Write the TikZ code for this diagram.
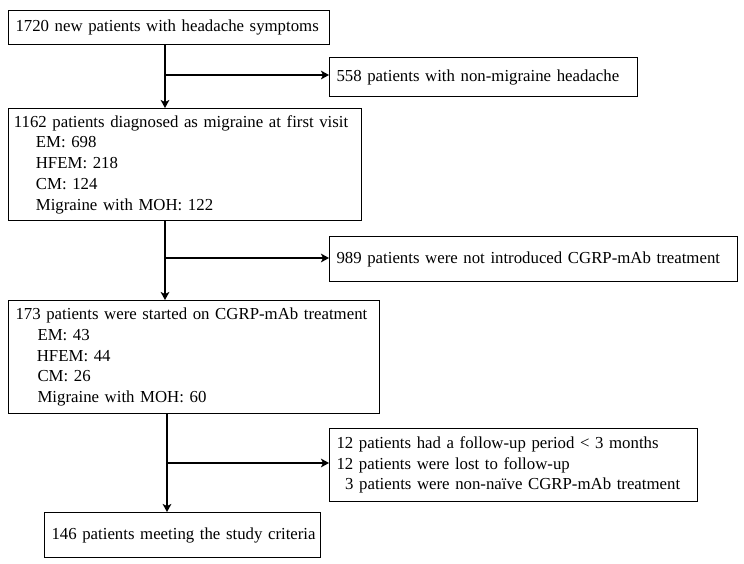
\documentclass[tikz,border=0pt]{standalone}
\usepackage{fontspec}
\setmainfont{Liberation Serif}
\usetikzlibrary{arrows.meta}
\begin{document}
\begin{tikzpicture}[x=0.75pt,y=-0.75pt,
  box/.style={draw, line width=0.8pt, anchor=north west, inner xsep=5.25pt, inner ysep=0pt,
    align=left, font=\fontsize{12.6pt}{15.6pt}\selectfont},
  conn/.style={line width=1.1pt, -{Stealth[length=6pt,width=6.5pt,inset=1.5pt]}}]
\useasboundingbox (0,0) rectangle (744,564);
\fill[white] (0,0) rectangle (744,564);
\node[box, text width=230.25pt, minimum height=25.5pt] (b1) at (8,10)
  {\mbox{1720 new patients with headache symptoms}};
\node[box, text width=220.5pt, minimum height=29.25pt] (ex1) at (329,57)
  {\mbox{558 patients with non-migraine headache}};
\node[box, text width=256.5pt, minimum height=84pt, inner xsep=4pt] (b2) at (8,108)
  {\mbox{1162 patients diagnosed as migraine at first visit}\\
   \hspace*{16.5pt}EM: 698\\
   \hspace*{16.5pt}HFEM: 218\\
   \hspace*{16.5pt}CM: 124\\
   \hspace*{16.5pt}\mbox{Migraine with MOH: 122}};
\node[box, text width=295.5pt, minimum height=33.75pt] (ex2) at (329,236)
  {\mbox{989 patients were not introduced CGRP-mAb treatment}};
\node[box, text width=267.75pt, minimum height=84.75pt] (b3) at (8,300)
  {\mbox{173 patients were started on CGRP-mAb treatment}\\
   \hspace*{16.5pt}EM: 43\\
   \hspace*{16pt}HFEM: 44\\
   \hspace*{16.5pt}CM: 26\\
   \hspace*{16.5pt}\mbox{Migraine with MOH: 60}};
\node[box, text width=265.5pt, minimum height=54.75pt] (ex3) at (329,428)
  {\mbox{12 patients had a follow-up period < 3 months}\\
   \mbox{12 patients were lost to follow-up}\\
   \hspace*{6.5pt}\mbox{3 patients were non-naïve CGRP-mAb treatment}};
\node[box, text width=196.5pt, minimum height=33.75pt] (b4) at (44,512)
  {\mbox{146 patients meeting the study criteria}};
\coordinate (j1) at (165,75);
\coordinate (j2) at (165,258);
\coordinate (j3) at (167,463);
\draw[conn] (b1.south -| j1) -- (b2.north -| j1);
\draw[conn] (j1) -- (ex1.west |- j1);
\draw[conn] (b2.south -| j2) -- (b3.north -| j2);
\draw[conn] (j2) -- (ex2.west |- j2);
\draw[conn] (b3.south -| j3) -- (b4.north -| j3);
\draw[conn] (j3) -- (ex3.west |- j3);
\end{tikzpicture}
\end{document}
